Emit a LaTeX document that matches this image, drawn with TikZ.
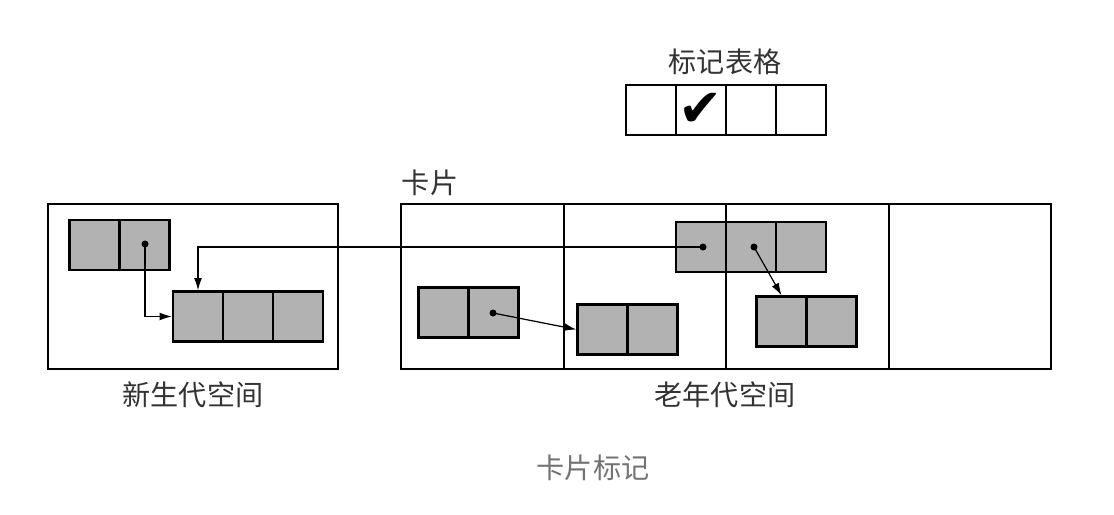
\documentclass[tikz,border=0pt]{standalone}
\usepackage{fontspec}
\newfontfamily\cjk{Noto Sans CJK SC}
\newfontfamily\symfont{DejaVu Sans}
\usetikzlibrary{arrows.meta}
\begin{document}
\begin{tikzpicture}[x=0.02cm,y=-0.02cm,
  every node/.style={font=\cjk\fontsize{16}{18}\selectfont},
  cell/.style={draw,line width=1.3pt,fill=gray!60,minimum width=1cm,minimum height=1cm,inner sep=0pt},
  markcell/.style={cell,fill=white},
  space/.style={draw,line width=1.3pt,minimum height=3.3cm,inner sep=0pt},
  lbl/.style={text=black!80},
  ptr/.style={line width=0.7pt,-{Latex[length=7pt,width=4.5pt]}}]
\useasboundingbox (0,0) rectangle (1114,514);
% marking table
\node[lbl] (tbllbl) at (725,62) {标记表格};
\foreach \i/\x in {1/651,2/701,3/751,4/801}
  \node[markcell] (m\i) at (\x,110) {};
\node[font=\symfont\fontsize{30}{32}\selectfont] (tick) at (m2) {✔};
% young generation
\node[space,minimum width=5.8cm] (young) at (193,286.5) {};
\node[lbl] (younglbl) at (193,395) {新生代空间};
\node[cell] (ya1) at (94.5,245) {};
\node[cell] (ya2) at (144.5,245) {};
\node[cell] (yb1) at (198,316.5) {};
\node[cell] (yb2) at (248,316.5) {};
\node[cell] (yb3) at (298,316.5) {};
% old generation, split into cards
\foreach \i/\x in {1/482.5,2/645,3/807.5,4/970}
  \node[space,minimum width=3.25cm] (card\i) at (\x,286.5) {};
\node[lbl] (cardlbl) at (430,183) {卡片};
\node[lbl] (oldlbl) at (725,395) {老年代空间};
\node[cell] (oa1) at (443.5,312.5) {};
\node[cell] (oa2) at (493.5,312.5) {};
\node[cell] (ob1) at (602.5,329.5) {};
\node[cell] (ob2) at (652.5,329.5) {};
\node[cell] (oc1) at (701,247) {};
\node[cell] (oc2) at (751,247) {};
\node[cell] (oc3) at (801,247) {};
\node[cell] (od1) at (781.5,321.5) {};
\node[cell] (od2) at (831.5,321.5) {};
% pointers
\coordinate (ydot) at (145,244);
\coordinate (adot) at (493,313);
\coordinate (cdot1) at (703,247);
\coordinate (cdot2) at (754,247);
\foreach \p in {ydot,adot,cdot1,cdot2}
  \fill (\p) circle (3.5);
\draw[ptr] (ydot) |- (yb1.west);
\draw[ptr] (cdot1) -| (yb1.north);
\draw[ptr] (adot) -- (ob1.west);
\draw[ptr] (cdot2) -- (od1.north);
\node[text=black!55] (caption) at (593,468) {卡片标记};
\end{tikzpicture}
\end{document}
